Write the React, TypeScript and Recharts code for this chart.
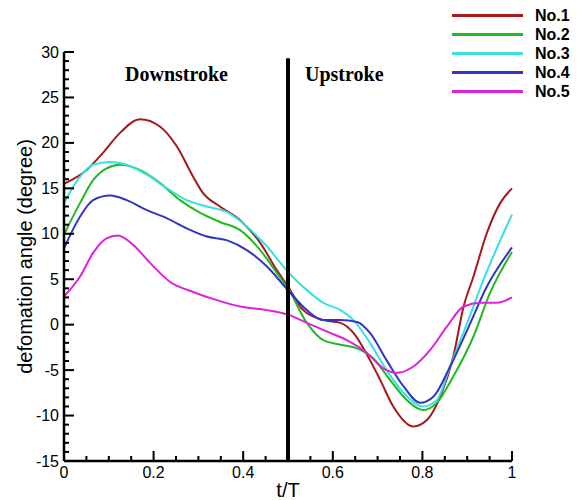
import React from "react";
import { LineChart, Line, XAxis, YAxis, ReferenceLine } from "recharts";

// ---- data ----
const t1 = [0, 0.05, 0.087, 0.125, 0.17, 0.214, 0.252, 0.288, 0.31, 0.348, 0.393, 0.438, 0.475, 0.5, 0.534, 0.579, 0.617, 0.646, 0.683, 0.706, 0.735, 0.78, 0.81, 0.84, 0.869, 0.892, 0.914, 0.944, 0.974, 1.0];
const v1 = [15.5, 17.0, 18.9, 21.1, 22.6, 21.8, 19.6, 16.3, 14.5, 13.0, 11.5, 9.0, 6.0, 4.2, 1.6, 0.5, 0.2, -0.9, -3.9, -6.1, -9.0, -11.2, -10.5, -7.9, -3.5, 2.0, 5.3, 10.1, 13.4, 15.0];

const t2 = [0, 0.036, 0.065, 0.095, 0.125, 0.17, 0.214, 0.259, 0.304, 0.348, 0.393, 0.438, 0.475, 0.5, 0.542, 0.579, 0.617, 0.654, 0.69, 0.728, 0.765, 0.802, 0.832, 0.869, 0.914, 0.951, 1.0];
const v2 = [9.9, 13.4, 15.9, 17.2, 17.6, 17.0, 15.6, 13.7, 12.3, 11.3, 10.4, 8.2, 5.7, 4.0, 0.2, -1.7, -2.2, -2.6, -3.7, -6.1, -8.3, -9.4, -8.6, -5.7, -1.3, 3.5, 8.0];

const t3 = [0, 0.036, 0.065, 0.103, 0.14, 0.185, 0.23, 0.274, 0.319, 0.363, 0.408, 0.453, 0.5, 0.542, 0.579, 0.617, 0.646, 0.683, 0.72, 0.758, 0.802, 0.832, 0.862, 0.9, 0.936, 0.974, 1.0];
const v3 = [13.4, 16.3, 17.6, 17.9, 17.6, 16.5, 15.0, 13.7, 13.0, 12.4, 10.8, 8.6, 5.8, 3.8, 2.4, 1.6, 0.5, -2.0, -5.0, -7.5, -9.0, -8.3, -4.6, 0.2, 4.9, 9.3, 12.1];

const t4 = [0, 0.036, 0.065, 0.103, 0.14, 0.185, 0.23, 0.274, 0.319, 0.363, 0.408, 0.453, 0.5, 0.542, 0.579, 0.617, 0.654, 0.683, 0.72, 0.758, 0.795, 0.825, 0.862, 0.9, 0.944, 1.0];
const v4 = [8.4, 11.9, 13.7, 14.2, 13.7, 12.6, 11.7, 10.6, 9.7, 9.3, 8.2, 6.4, 3.8, 1.6, 0.5, 0.5, 0.3, -0.9, -3.9, -6.8, -8.6, -7.9, -4.6, -0.6, 4.2, 8.5];

const t5 = [0, 0.036, 0.065, 0.095, 0.12, 0.154, 0.192, 0.237, 0.288, 0.341, 0.393, 0.453, 0.5, 0.542, 0.594, 0.631, 0.676, 0.713, 0.743, 0.78, 0.817, 0.855, 0.892, 0.929, 0.966, 1.0];
const v5 = [3.1, 5.3, 7.9, 9.5, 9.8, 8.8, 6.8, 4.7, 3.6, 2.7, 2.0, 1.6, 1.1, 0.2, -0.9, -1.7, -3.1, -4.8, -5.3, -4.6, -2.8, -0.2, 2.0, 2.4, 2.4, 3.0];

const seriesNames = ["No.1", "No.2", "No.3", "No.4", "No.5"];
const seriesColors = ["#a81818", "#22b822", "#38e0e0", "#3434c4", "#dc22dc"];

const xTicks = [0, 0.05, 0.1, 0.15, 0.2, 0.25, 0.3, 0.35, 0.4, 0.45, 0.5, 0.55, 0.6, 0.65, 0.7, 0.75, 0.8, 0.85, 0.9, 0.95, 1];
const xMajor = [0, 0.2, 0.4, 0.6, 0.8, 1];
const yTicks = [-15, -14, -13, -12, -11, -10, -9, -8, -7, -6, -5, -4, -3, -2, -1, 0, 1, 2, 3, 4, 5, 6, 7, 8, 9, 10, 11, 12, 13, 14, 15, 16, 17, 18, 19, 20, 21, 22, 23, 24, 25, 26, 27, 28, 29, 30];
const yMajor = [-15, -10, -5, 0, 5, 10, 15, 20, 25, 30];

const phaseLine = [{ x: 0.5, y: -15 }, { x: 0.5, y: 29.3 }];

const zip = (ts: number[], vs: number[]) => ts.map((t, i) => ({ t, v: vs[i] }));
const seriesData = [zip(t1, v1), zip(t2, v2), zip(t3, v3), zip(t4, v4), zip(t5, v5)];

const SANS = "'Liberation Sans', Arial, Helvetica, sans-serif";
const SERIF = "'Liberation Serif', 'Times New Roman', serif";

const isIn = (arr: number[], v: number) => arr.some((a) => Math.abs(a - v) < 1e-6);

const YTick = (props: any) => {
  const { x, y, payload } = props;
  const major = isIn(yMajor, payload.value);
  return (
    <g>
      <line x1={x} x2={x + (major ? 10 : 5)} y1={y} y2={y} stroke="#000" strokeWidth={2} />
      {major && (
        <text x={x - 5} y={y} textAnchor="end" dominantBaseline="central" fontSize={16} fontFamily={SANS} fill="#000">
          {payload.value}
        </text>
      )}
    </g>
  );
};

const XTick = (props: any) => {
  const { x, y, payload } = props;
  const major = isIn(xMajor, payload.value);
  return (
    <g>
      <line x1={x} x2={x} y1={y} y2={y - (major ? 10 : 5)} stroke="#000" strokeWidth={2} />
      {major && (
        <text x={x} y={y + 17} textAnchor="middle" fontSize={16} fontFamily={SANS} fill="#000">
          {String(payload.value)}
        </text>
      )}
    </g>
  );
};

const YTitle = (props: any) => {
  const vb = props.viewBox || {};
  const cx = vb.x + 1;
  const cy = vb.y + vb.height / 2;
  return (
    <text
      x={cx}
      y={cy}
      transform={`rotate(-90, ${cx}, ${cy})`}
      textAnchor="middle"
      dominantBaseline="central"
      fontSize={20}
      fontFamily={SANS}
      fill="#000"
    >
      defomation angle (degree)
    </text>
  );
};

const XTitle = (props: any) => {
  const vb = props.viewBox || {};
  return (
    <text x={vb.x + vb.width / 2} y={vb.y + 36} textAnchor="middle" fontSize={20} fontFamily={SANS} fill="#000">
      t/T
    </text>
  );
};

export default function App() {
  return (
    <div style={{ position: "relative", width: 572, height: 492, background: "#fff" }}>
      <LineChart width={572} height={492} margin={{ top: 44, right: 68, bottom: 9, left: 16 }}>
        <XAxis
          type="number"
          dataKey="t"
          domain={[0, 1]}
          ticks={xTicks}
          interval={0}
          tickSize={0}
          tickMargin={0}
          tick={<XTick />}
          axisLine={{ stroke: "#000", strokeWidth: 2.5 }}
          height={30}
          allowDuplicatedCategory={false}
          label={<XTitle />}
        />
        <YAxis
          type="number"
          domain={[-15, 30]}
          ticks={yTicks}
          interval={0}
          tickSize={0}
          tickMargin={0}
          tick={<YTick />}
          axisLine={{ stroke: "#000", strokeWidth: 2.5 }}
          width={40}
          label={<YTitle />}
        />
        {seriesData.map((d, i) => (
          <Line
            key={seriesNames[i]}
            data={d}
            dataKey="v"
            type="monotone"
            stroke={seriesColors[i]}
            strokeWidth={2}
            dot={false}
            isAnimationActive={false}
          />
        ))}
        <ReferenceLine segment={phaseLine} stroke="#000" strokeWidth={4} />
      </LineChart>

      <div style={{ position: "absolute", left: 117, top: 55, fontFamily: SERIF, fontWeight: "bold", fontSize: 20, color: "#000" }}>
        Downstroke
      </div>
      <div style={{ position: "absolute", left: 297, top: 55, fontFamily: SERIF, fontWeight: "bold", fontSize: 20, color: "#000" }}>
        Upstroke
      </div>

      <div style={{ position: "absolute", left: 444, top: -2 }}>
        {seriesNames.map((n, i) => (
          <div key={n} style={{ display: "flex", alignItems: "center", height: 19 }}>
            <div style={{ width: 71, height: 3, background: seriesColors[i], marginRight: 12 }} />
            <span style={{ fontFamily: SANS, fontWeight: "bold", fontSize: 16, color: "#000" }}>{n}</span>
          </div>
        ))}
      </div>
    </div>
  );
}
